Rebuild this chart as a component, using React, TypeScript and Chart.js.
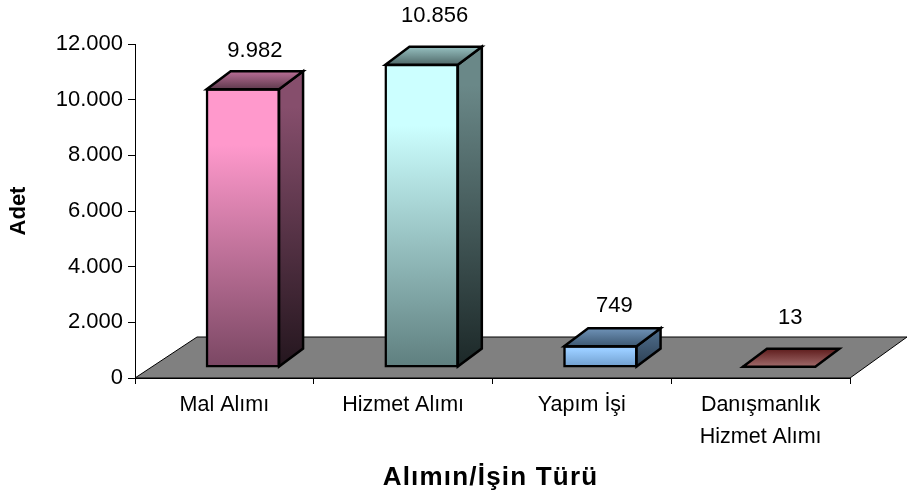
import React, { useEffect, useRef } from "react";
import { Chart, registerables } from "chart.js";

Chart.register(...registerables);

const categories = ["Mal Alımı", "Hizmet Alımı", "Yapım İşi", ["Danışmanlık", "Hizmet Alımı"]];
const values = [9982, 10856, 749, 13];
const xTitle = "Alımın/İşin Türü";
const yTitle = "Adet";
const frontTop = ["#ff99cc", "#ccffff", "#99ccff", "#993333"];
const frontBottom = ["#7a4763", "#5f7f7f", "#6f9dcc", "#5c1f1f"];
const sideTop = ["#864e6c", "#6a8888", "#4c6a88", "#5c1f1f"];
const sideBottom = ["#24161e", "#1c2828", "#2c3f52", "#2e1010"];
const topBack = ["#bb6f97", "#96c0c0", "#6f93b8", "#5e1c1c"];
const topFront = ["#5e3a4d", "#4f6868", "#3d5872", "#a06a6a"];
const labelGaps = [20, 31, 22, 31];
const labelShift = [0, 1, 2, -1];

const FONT = "'Liberation Sans', Arial, sans-serif";
const SHIFT_X = 18.5;
const SHIFT_Y = -11;
const DEPTH_X = 24;
const DEPTH_Y = -18;
const FLOOR_X = 57;
const FLOOR_Y = -41;
const EDGE = 2.5;

const fmt = (v: number) => String(v).replace(/\B(?=(\d{3})+(?!\d))/g, ".");

function poly(ctx: CanvasRenderingContext2D, pts: number[][], fill: any, stroke: string, lw: number) {
  ctx.beginPath();
  pts.forEach((p, i) => (i ? ctx.lineTo(p[0], p[1]) : ctx.moveTo(p[0], p[1])));
  ctx.closePath();
  ctx.fillStyle = fill;
  ctx.fill();
  ctx.lineWidth = lw;
  ctx.strokeStyle = stroke;
  ctx.lineJoin = "miter";
  ctx.stroke();
}

const box3d = {
  id: "box3d",
  beforeDatasetsDraw(chart: any) {
    const { ctx, chartArea: a } = chart;
    ctx.save();
    poly(
      ctx,
      [
        [a.left, a.bottom],
        [a.left + FLOOR_X + 5, a.bottom + FLOOR_Y],
        [a.right + FLOOR_X, a.bottom + FLOOR_Y],
        [a.right, a.bottom],
      ],
      "#808080",
      "#000000",
      1
    );
    ctx.restore();
    ctx.save();
    ctx.translate(SHIFT_X, SHIFT_Y);
  },
  afterDatasetsDraw(chart: any) {
    const { ctx } = chart;
    ctx.restore();
    const bars = chart.getDatasetMeta(0).data;
    ctx.save();
    bars.forEach((bar: any, i: number) => {
      const half = bar.width / 2;
      const l = bar.x - half + SHIFT_X;
      const r = bar.x + half + SHIFT_X;
      const t = bar.y + SHIFT_Y;
      const b = bar.base + SHIFT_Y;
      const side = ctx.createLinearGradient(0, t + DEPTH_Y, 0, b);
      side.addColorStop(0, sideTop[i]);
      side.addColorStop(0.12, sideTop[i]);
      side.addColorStop(1, sideBottom[i]);
      if (b - t > 2) {
        poly(ctx, [[r, t], [r + DEPTH_X, t + DEPTH_Y], [r + DEPTH_X, b + DEPTH_Y], [r, b]], side, "#000000", EDGE);
      }
      const top = ctx.createLinearGradient(0, t + DEPTH_Y, 0, t);
      top.addColorStop(0, topBack[i]);
      top.addColorStop(1, topFront[i]);
      poly(ctx, [[l, t], [l + DEPTH_X, t + DEPTH_Y], [r + DEPTH_X, t + DEPTH_Y], [r, t]], top, "#000000", EDGE);

      ctx.fillStyle = "#000000";
      ctx.font = `22px ${FONT}`;
      ctx.textAlign = "center";
      ctx.textBaseline = "middle";
      ctx.fillText(fmt(values[i]), (l + r + DEPTH_X) / 2 + labelShift[i], t + DEPTH_Y - labelGaps[i]);
    });
    ctx.restore();
  },
  afterDraw(chart: any) {
    const { ctx, chartArea: a } = chart;
    ctx.save();
    ctx.fillStyle = "#000000";
    ctx.font = `bold 26px ${FONT}`;
    (ctx as any).letterSpacing = "1.2px";
    ctx.textAlign = "center";
    ctx.textBaseline = "middle";
    ctx.fillText(xTitle, (a.left + a.right) / 2 - 2, 478);
    ctx.restore();
  },
};

export default function App() {
  const ref = useRef<HTMLCanvasElement>(null);
  useEffect(() => {
    document.body.style.margin = "0";
    document.body.style.background = "#ffffff";
    const chart = new Chart(ref.current as HTMLCanvasElement, {
      type: "bar",
      plugins: [box3d],
      data: {
        labels: categories as any,
        datasets: [
          {
            data: values,
            clip: false as any,
            barPercentage: 0.405,
            categoryPercentage: 1,
            borderColor: "#000000",
            borderWidth: EDGE,
            borderSkipped: false,
            inflateAmount: 1,
            backgroundColor: (c: any) => {
              const i = c.dataIndex;
              const y = c.chart.scales.y;
              const y0 = y ? y.getPixelForValue(values[i]) : NaN;
              const y1 = y ? y.getPixelForValue(0) : NaN;
              if (!Number.isFinite(y0) || !Number.isFinite(y1)) return frontTop[i] || "#000000";
              const g = c.chart.ctx.createLinearGradient(0, y0, 0, y1);
              g.addColorStop(0, frontTop[i]);
              g.addColorStop(0.2, frontTop[i]);
              g.addColorStop(1, frontBottom[i]);
              return g;
            },
          },
        ],
      },
      options: {
        animation: false,
        responsive: false,
        devicePixelRatio: 1,
        layout: { padding: { left: 0, top: 44, right: 57, bottom: 0 } },
        plugins: { legend: { display: false }, tooltip: { enabled: false } },
        scales: {
          x: {
            offset: true,
            grid: { offset: true, drawOnChartArea: false, color: "#000000", tickLength: 6, tickColor: "#000000" },
            border: { color: "#000000", width: 1 },
            ticks: {
              color: "#000000",
              maxRotation: 0,
              autoSkip: false,
              padding: 5,
              font: { family: FONT, size: 21.5, lineHeight: "32px" as any },
            },
            afterFit: (s: any) => {
              s.height = 121;
            },
          },
          y: {
            min: 0,
            max: 12000,
            grid: { drawOnChartArea: false, color: "#000000", tickLength: 7, tickColor: "#000000" },
            border: { color: "#000000", width: 1 },
            ticks: {
              stepSize: 2000,
              color: "#000000",
              padding: 5,
              font: { family: FONT, size: 22 },
              callback: (v: any) => fmt(Number(v)),
            },
            title: {
              display: true,
              text: yTitle,
              color: "#000000",
              font: { family: FONT, size: 22, weight: "bold" },
              padding: { top: 6, bottom: 0 },
            },
            afterFit: (s: any) => {
              s.width = 135;
            },
          },
        },
      },
    } as any);
    return () => chart.destroy();
  }, []);
  return <canvas ref={ref} width={907} height={499} style={{ display: "block" }} />;
}
